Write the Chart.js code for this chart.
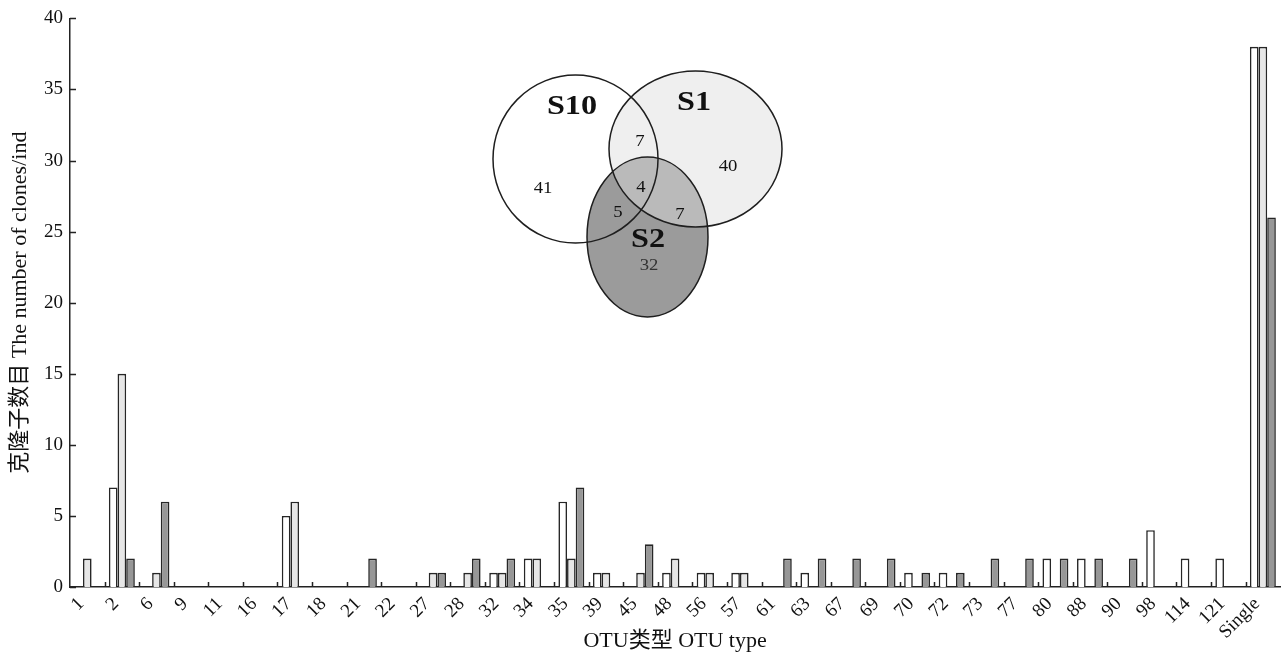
<!DOCTYPE html>
<html>
<head>
<meta charset="utf-8">
<script src="https://cdn.jsdelivr.net/npm/chart.js@4.4.1/dist/chart.umd.min.js"></script>
<style>
  html, body { margin: 0; padding: 0; background: #ffffff; }
  #wrap { width: 1285px; height: 654px; position: relative; }
</style>
</head>
<body>
<div id="wrap"><canvas id="otuChart" width="1285" height="654"></canvas></div>
<script>
// OTU types on the x axis
const otuTypes = ['1','2','6','9','11','16','17','18','21','22','27','28','32','34','35','39','45','48','56','57','61','63','67','69','70','72','73','77','80','88','90','98','114','121','Single'];

// Number of clones per OTU type for each sample
const cloneS10 = [0,7,0,0,0,0,5,0,0,0,0,0,1,2,6,1,0,1,1,1,0,1,0,0,1,1,0,0,2,2,0,4,2,2,38];
const cloneS1  = [2,15,1,0,0,0,6,0,0,0,1,1,1,2,2,1,1,2,1,1,0,0,0,0,0,0,0,0,0,0,0,0,0,0,38];
const cloneS2  = [0,2,6,0,0,0,0,0,2,0,1,2,2,0,7,0,3,0,0,0,2,2,2,2,1,1,2,2,2,2,2,0,0,0,26];

// Y axis ticks
const yTickValues = [0,5,10,15,20,25,30,35,40];

// Venn diagram of shared OTUs
const vennSets = ['S10','S1','S2'];
const vennRegions = ['S10', 'S1', 'S2', 'S10∩S1', 'S10∩S2', 'S1∩S2', 'S10∩S1∩S2'];
const vennCounts  = [41, 40, 32, 7, 5, 7, 4];

const serif = "'Liberation Serif', 'Times New Roman', serif";
const serifCJK = "'Liberation Serif', 'Noto Sans CJK SC', serif";
const edgeColor = '#262626';

// Small inward tick marks on both axes
const axisTicks = {
  id: 'axisTicks',
  afterDatasetsDraw(chart) {
    const { ctx, scales: { x, y } } = chart;
    ctx.save();
    ctx.strokeStyle = '#222222';
    ctx.lineWidth = 1.5;
    ctx.beginPath();
    for (let i = 0; i < otuTypes.length - 1; i++) {
      const px = Math.round((x.getPixelForValue(i) + x.getPixelForValue(i + 1)) / 2) + 0.5;
      ctx.moveTo(px, y.bottom);
      ctx.lineTo(px, y.bottom - 5);
    }
    yTickValues.forEach(v => {
      const py = Math.round(y.getPixelForValue(v)) + 0.5;
      ctx.moveTo(x.left, py);
      ctx.lineTo(x.left + 6, py);
    });
    ctx.stroke();
    ctx.restore();
  }
};

// Inset Venn diagram (S10, S1, S2)
const vennInset = {
  id: 'vennInset',
  afterDraw(chart) {
    const ctx = chart.ctx;
    const shapes = {
      S10: { x: 575.5, y: 159, rx: 82.5, ry: 84 },
      S1:  { x: 695.5, y: 149, rx: 86.5, ry: 78 },
      S2:  { x: 647.5, y: 237, rx: 60.5, ry: 80 }
    };
    const path = s => { ctx.beginPath(); ctx.ellipse(s.x, s.y, s.rx, s.ry, 0, 0, Math.PI * 2); };
    const wideText = (txt, x, y, sx) => {
      ctx.save();
      ctx.translate(x, y);
      ctx.scale(sx, 1);
      ctx.fillText(txt, 0, 0);
      ctx.restore();
    };
    ctx.save();
    path(shapes.S10); ctx.fillStyle = '#ffffff'; ctx.fill();
    path(shapes.S2);  ctx.fillStyle = '#9b9b9b'; ctx.fill();
    path(shapes.S1);  ctx.fillStyle = 'rgba(221,221,221,0.47)'; ctx.fill();
    ctx.strokeStyle = '#1e1e1e';
    ctx.lineWidth = 1.5;
    vennSets.forEach(k => { path(shapes[k]); ctx.stroke(); });

    ctx.textAlign = 'center';
    ctx.textBaseline = 'middle';
    ctx.fillStyle = '#111111';
    ctx.font = 'bold 28px ' + serif;
    wideText(vennSets[0], 572, 107, 1.15);
    wideText(vennSets[1], 694, 103, 1.15);
    wideText(vennSets[2], 648, 240, 1.15);

    const spots = [[543, 189], [728, 167], [649, 266], [640, 142], [618, 213], [680, 215], [641, 188]];
    ctx.font = '17px ' + serif;
    vennCounts.forEach((n, i) => {
      ctx.fillStyle = i === 2 ? '#333333' : '#111111';
      wideText(String(n), spots[i][0], spots[i][1], 1.1);
    });
    ctx.restore();
  }
};

const barStyle = { borderColor: edgeColor, borderWidth: 1.6, borderSkipped: 'start' };

new Chart(document.getElementById('otuChart'), {
  type: 'bar',
  data: {
    labels: otuTypes,
    datasets: [
      Object.assign({ label: 'S10', data: cloneS10, backgroundColor: '#ffffff' }, barStyle),
      Object.assign({ label: 'S1',  data: cloneS1,  backgroundColor: '#e6e6e6' }, barStyle),
      Object.assign({ label: 'S2',  data: cloneS2,  backgroundColor: '#979797' }, barStyle)
    ]
  },
  options: {
    responsive: false,
    animation: false,
    devicePixelRatio: 1,
    layout: { padding: { left: 0, right: 0, top: 15, bottom: 0 } },
    plugins: { legend: { display: false }, tooltip: { enabled: false } },
    datasets: { bar: { categoryPercentage: 0.75, barPercentage: 1.0 } },
    scales: {
      x: {
        type: 'category',
        offset: true,
        grid: { display: false, drawTicks: false },
        border: { display: true, color: '#222222', width: 1.5 },
        ticks: {
          autoSkip: false,
          minRotation: 45,
          maxRotation: 45,
          padding: 6,
          labelOffset: -6,
          color: '#111111',
          font: { family: serif, size: 19 }
        },
        title: {
          display: true,
          text: 'OTU类型 OTU type',
          color: '#111111',
          font: { family: serifCJK, size: 22 },
          padding: { top: 0, bottom: 0 }
        },
        afterFit(scale) { scale.height = 67; }
      },
      y: {
        min: 0,
        max: 40,
        afterBuildTicks(scale) { scale.ticks = yTickValues.map(v => ({ value: v })); },
        grid: { display: false, drawTicks: false },
        border: { display: true, color: '#222222', width: 1.5 },
        ticks: {
          padding: 7,
          color: '#111111',
          font: { family: serif, size: 19 }
        },
        title: {
          display: true,
          text: '克隆子数目 The number of clones/ind',
          color: '#111111',
          font: { family: serifCJK, size: 22 },
          padding: { top: 7, bottom: 0 }
        },
        afterFit(scale) { scale.width = 70; }
      }
    }
  },
  plugins: [axisTicks, vennInset]
});
</script>
</body>
</html>
